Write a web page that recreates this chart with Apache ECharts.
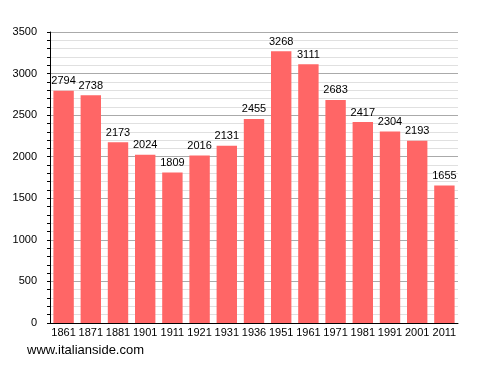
<!DOCTYPE html>
<html><head><meta charset="utf-8">
<script src="https://cdn.jsdelivr.net/npm/echarts@6/dist/echarts.min.js"></script>
<style>html,body{margin:0;padding:0;background:#fff}#c{width:488px;height:373px}</style>
</head><body><div id="c"></div>
<script>
const years = ['1861','1871','1881','1901','1911','1921','1931','1936','1951','1961','1971','1981','1991','2001','2011'];
const population = [2794,2738,2173,2024,1809,2016,2131,2455,3268,3111,2683,2417,2304,2193,1655];
const yTicks = [0,500,1000,1500,2000,2500,3000,3500];
const font = 'Liberation Sans';
const chart = echarts.init(document.getElementById('c'));
chart.setOption({
  animation:false,
  grid:{left:50,right:30,top:32,bottom:50,containLabel:false},
  graphic:[{type:'text',left:27,top:344,style:{text:'www.italianside.com',font:'13px "Liberation Sans"',fill:'#000'}}],
  xAxis:[{type:'category',data:years,
    axisLine:{lineStyle:{color:'#000',width:1}},axisTick:{show:false},
    axisLabel:{color:'#000',fontFamily:font,fontSize:11,margin:4,interval:0}},
  ],
  yAxis:[{type:'value',min:0,max:3500,interval:100,
    axisLine:{show:true,lineStyle:{color:'#000'}},
    axisTick:{show:true,length:3,inside:false,lineStyle:{color:'#000'}},
    axisLabel:{color:'#000',fontFamily:font,fontSize:11,margin:13,
      formatter:v=>yTicks.includes(v)?String(v):''},
    splitLine:{show:true,lineStyle:{color:'#e0e0e0',width:1}}},
    {type:'value',min:0,max:3500,interval:500,position:'left',
    axisLine:{show:false},axisTick:{show:false},axisLabel:{show:false},
    splitLine:{show:true,lineStyle:{color:'#aaaaaa',width:1}}}
  ],
  series:[{type:'bar',data:population,barCategoryGap:'25%',
    itemStyle:{color:'#ff6666'},
    label:{show:true,position:'top',distance:4,color:'#000',fontFamily:font,fontSize:11}}]
});
</script></body></html>
